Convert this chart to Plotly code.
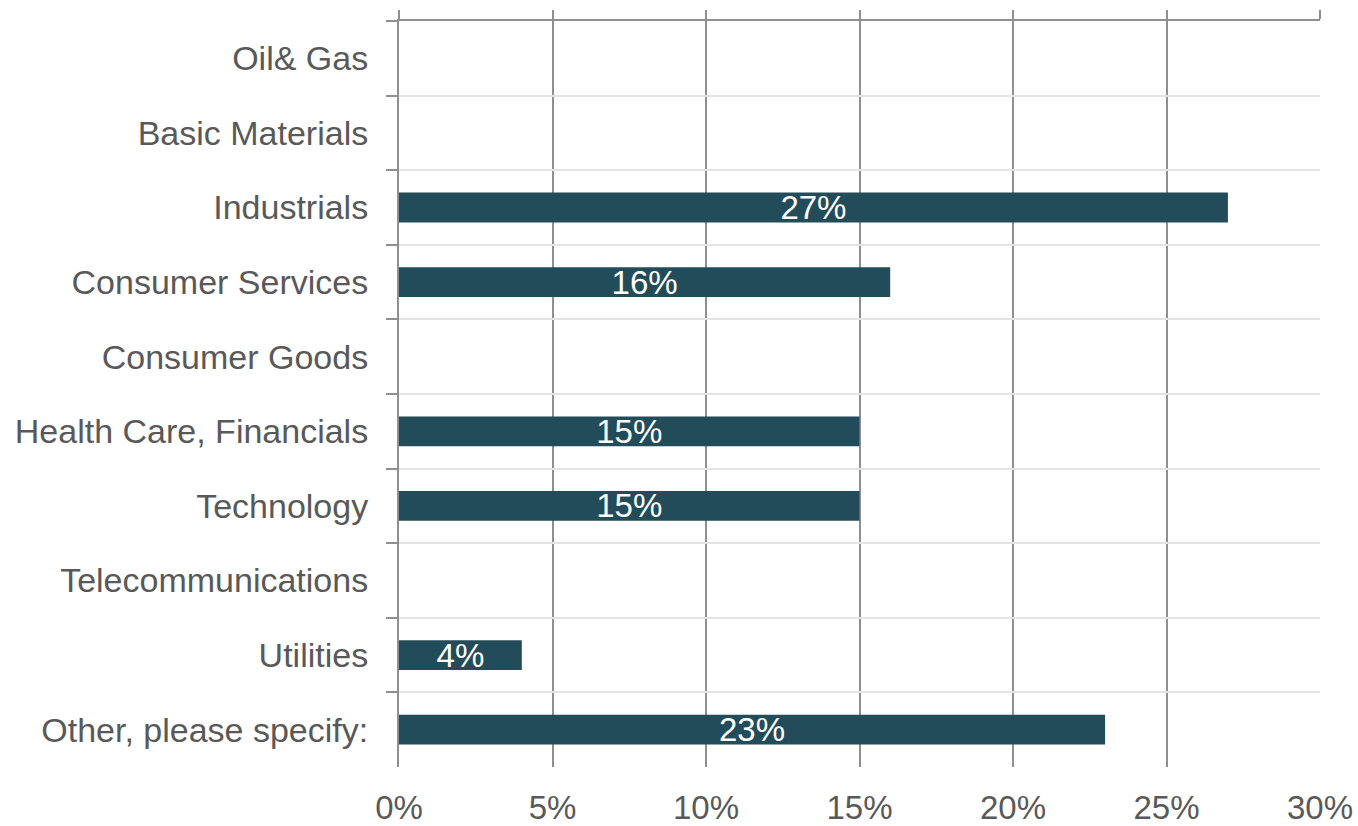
import plotly.graph_objects as go

# Share of respondents by sector
sectors = [
    "Oil& Gas",
    "Basic Materials",
    "Industrials",
    "Consumer Services",
    "Consumer Goods",
    "Health Care, Financials",
    "Technology",
    "Telecommunications",
    "Utilities",
    "Other, please specify:",
]
shares = [0, 0, 27, 16, 0, 15, 15, 0, 4, 23]
x_ticks = [0, 5, 10, 15, 20, 25, 30]

BAR_COLOR = "#234c5a"
TEXT_GRAY = "#595959"
AXIS_GRAY = "#8f8f8f"
GRID_LIGHT = "#e4e4e4"
FONT = "Liberation Sans, Arial, sans-serif"

labels = [f"{v}%" if v else "" for v in shares]

fig = go.Figure()
fig.add_trace(
    go.Bar(
        x=shares,
        y=sectors,
        orientation="h",
        marker=dict(color=BAR_COLOR, line=dict(width=0)),
        width=0.4,
        text=labels,
        textposition="inside",
        insidetextanchor="middle",
        constraintext="none",
        textfont=dict(color="white", size=33, family=FONT),
        hoverinfo="skip",
    )
)
# invisible trace that carries the top value axis (tick stubs above the plot)
fig.add_trace(
    go.Scatter(x=[0, 30], y=[sectors[0], sectors[0]], xaxis="x2",
               mode="markers", marker=dict(opacity=0), hoverinfo="skip",
               showlegend=False)
)

fig.update_layout(
    width=1358,
    height=826,
    margin=dict(l=399, r=38, t=21, b=59),
    paper_bgcolor="white",
    plot_bgcolor="white",
    showlegend=False,
    font=dict(family=FONT, color=TEXT_GRAY),
    xaxis=dict(
        range=[0, 30],
        tickvals=x_ticks,
        ticktext=[f"{t}%" for t in x_ticks],
        showgrid=True,
        gridcolor=AXIS_GRAY,
        gridwidth=2,
        zeroline=False,
        showline=False,
        ticks="outside",
        ticklen=11,
        tickcolor="rgba(0,0,0,0)",
        tickfont=dict(size=33, color=TEXT_GRAY, family=FONT),
        automargin=False,
        fixedrange=True,
    ),
    xaxis2=dict(
        range=[0, 30],
        overlaying="x",
        side="top",
        tickvals=x_ticks,
        showticklabels=False,
        showgrid=False,
        zeroline=False,
        showline=True,
        linecolor=AXIS_GRAY,
        linewidth=2,
        ticks="outside",
        ticklen=9,
        tickwidth=2,
        tickcolor=AXIS_GRAY,
        automargin=False,
    ),
    yaxis=dict(
        categoryorder="array",
        categoryarray=sectors,
        range=[len(sectors) - 0.5, -0.5],
        tickson="boundaries",
        showgrid=True,
        gridcolor=GRID_LIGHT,
        gridwidth=2,
        zeroline=False,
        showline=True,
        linecolor=AXIS_GRAY,
        linewidth=2,
        ticks="outside",
        ticklen=11,
        tickwidth=2,
        tickcolor=AXIS_GRAY,
        ticklabelstandoff=22,
        tickfont=dict(size=34, color=TEXT_GRAY, family=FONT),
        automargin=False,
        fixedrange=True,
    ),
)

fig.write_html("out.html")
